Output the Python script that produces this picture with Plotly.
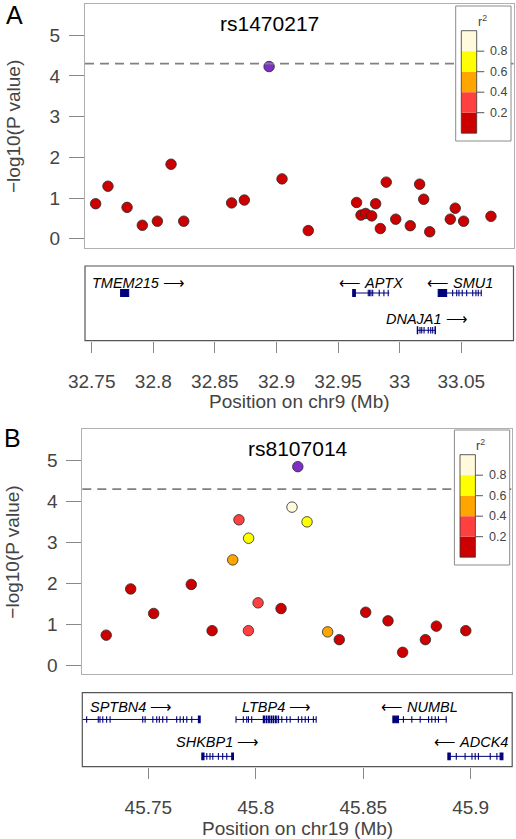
import plotly.graph_objects as go

W, H = 516, 839
FONT = "Liberation Sans, Arial, sans-serif"

# ---------------- data ----------------
# Panel A: chr9
a_pos = [32.7532, 32.7632, 32.7787, 32.7911, 32.8033, 32.8144, 32.8247, 32.8636, 32.8739,
         32.9045, 32.9258, 32.9650, 32.9686, 32.9724, 32.9773, 32.9805, 32.9843, 32.9891,
         32.9968, 33.0086, 33.0162, 33.0195, 33.0244, 33.0411, 33.0451, 33.0519, 33.0741]
a_logp = [0.86, 1.29, 0.77, 0.33, 0.43, 1.83, 0.43, 0.88, 0.95,
          1.47, 0.20, 0.89, 0.58, 0.62, 0.56, 0.86, 0.25, 1.39,
          0.48, 0.32, 1.34, 0.97, 0.17, 0.48, 0.75, 0.43, 0.55]
a_r2 = [0.1, 0.1, 0.1, 0.1, 0.1, 0.1, 0.1, 0.1, 0.1,
        0.1, 0.1, 0.1, 0.1, 0.1, 0.1, 0.1, 0.1, 0.1,
        0.1, 0.1, 0.1, 0.1, 0.1, 0.1, 0.1, 0.1, 0.1]
a_lead_pos = 32.8940
a_lead_logp = 4.23
a_lead_name = "rs1470217"

# Panel B: chr19
b_pos = [45.7304, 45.7418, 45.7525, 45.7700, 45.7797, 45.7893, 45.7922, 45.7967, 45.7966,
         45.8011, 45.8118, 45.8169, 45.8239, 45.8335, 45.8389, 45.8512, 45.8616, 45.8684,
         45.8790, 45.8841, 45.8978]
b_logp = [0.73, 1.86, 1.26, 1.97, 0.84, 2.57, 3.55, 3.10, 0.84,
          1.52, 1.38, 3.86, 3.50, 0.81, 0.62, 1.29, 1.08, 0.31,
          0.62, 0.95, 0.84]
b_r2 = [0.1, 0.1, 0.1, 0.1, 0.1, 0.5, 0.3, 0.7, 0.3,
        0.3, 0.1, 0.9, 0.7, 0.5, 0.1, 0.1, 0.1, 0.1,
        0.1, 0.1, 0.1]
b_lead_pos = 45.8196
b_lead_logp = 4.85
b_lead_name = "rs8107014"

threshold = 4.3

r2_breaks = [0.2, 0.4, 0.6, 0.8]
r2_labels = ["0.2", "0.4", "0.6", "0.8"]
r2_colors = ["#CC0000", "#FF4040", "#FFA500", "#FFFF00", "#FFFADC"]
lead_color = "#7D2FC8"

a_ticks = [32.75, 32.8, 32.85, 32.9, 32.95, 33.0, 33.05]
a_ticktext = ["32.75", "32.8", "32.85", "32.9", "32.95", "33", "33.05"]
b_ticks = [45.75, 45.8, 45.85, 45.9]
b_ticktext = ["45.75", "45.8", "45.85", "45.9"]

y_ticks = [0, 1, 2, 3, 4, 5]

# Genes, panel A
a_gene_names = ["TMEM215", "APTX", "SMU1", "DNAJA1"]
a_gene_start = [32.7735, 32.9619, 33.0313, 33.0143]
a_gene_end = [32.7800, 32.9916, 33.0666, 33.0295]
a_gene_strand = ["+", "-", "-", "+"]
a_gene_row = [1, 1, 1, 2]
a_gene_exons = [
    [(32.7735, 32.7800)],
    [(32.9619, 32.9640), (32.9745, 32.9745), (32.9756, 32.9756), (32.9767, 32.9767),
     (32.9781, 32.9781), (32.9834, 32.9834), (32.9872, 32.9872), (32.9907, 32.9907)],
    [(33.0313, 33.0381), (33.0430, 33.0430), (33.0463, 33.0463), (33.0481, 33.0481),
     (33.0508, 33.0508), (33.0544, 33.0544), (33.0593, 33.0593), (33.0619, 33.0619),
     (33.0638, 33.0638), (33.0662, 33.0662)],
    [(33.0143, 33.0146), (33.0165, 33.0165), (33.0179, 33.0179), (33.0198, 33.0198),
     (33.0232, 33.0232), (33.0252, 33.0252), (33.0268, 33.0268), (33.0287, 33.0290)],
]

# Genes, panel B
b_gene_names = ["SPTBN4", "LTBP4", "NUMBL", "SHKBP1", "ADCK4"]
b_gene_start = [45.7100, 45.7908, 45.8638, 45.7749, 45.8894]
b_gene_end = [45.7741, 45.8281, 45.8889, 45.7896, 45.9150]
b_gene_strand = ["+", "+", "-", "+", "-"]
b_gene_row = [1, 1, 1, 2, 2]
b_gene_exons = [
    [(45.7213, 45.7213), (45.7267, 45.7267), (45.7275, 45.7275), (45.7288, 45.7288),
     (45.7306, 45.7306), (45.7322, 45.7322), (45.7474, 45.7474), (45.7485, 45.7485),
     (45.7521, 45.7521), (45.7539, 45.7539), (45.7551, 45.7551), (45.7567, 45.7567),
     (45.7586, 45.7586), (45.7632, 45.7632), (45.7648, 45.7648), (45.7663, 45.7663),
     (45.7679, 45.7679), (45.7702, 45.7702), (45.7733, 45.7741)],
    [(45.7908, 45.7908), (45.7942, 45.7942), (45.7958, 45.7958), (45.7966, 45.7966),
     (45.7981, 45.7981), (45.8035, 45.8040), (45.8048, 45.8052), (45.8060, 45.8063),
     (45.8071, 45.8074), (45.8081, 45.8084), (45.8092, 45.8095), (45.8104, 45.8106),
     (45.8121, 45.8121), (45.8144, 45.8144), (45.8160, 45.8160), (45.8198, 45.8198),
     (45.8214, 45.8214), (45.8230, 45.8230), (45.8245, 45.8245), (45.8268, 45.8268),
     (45.8281, 45.8281)],
    [(45.8638, 45.8664), (45.8687, 45.8687), (45.8726, 45.8726), (45.8765, 45.8765),
     (45.8804, 45.8804), (45.8819, 45.8819), (45.8835, 45.8835), (45.8850, 45.8850),
     (45.8886, 45.8886)],
    [(45.7749, 45.7759), (45.7772, 45.7772), (45.7787, 45.7787), (45.7800, 45.7800),
     (45.7826, 45.7826), (45.7846, 45.7846), (45.7865, 45.7865), (45.7888, 45.7896)],
    [(45.8894, 45.8905), (45.8933, 45.8933), (45.8974, 45.8974), (45.9006, 45.9006),
     (45.9021, 45.9021), (45.9036, 45.9036), (45.9091, 45.9091), (45.9122, 45.9122),
     (45.9137, 45.9150)],
]

# ---------------- layout helpers (pixel geometry) ----------------
def fx(px):
    return px / W


def fy(py):
    return 1 - py / H


def r2_color(v):
    idx = sum(1 for b in r2_breaks if v >= b)
    return r2_colors[idx]


GENE_COLOR = "#00007A"
TICK_FONT = dict(family=FONT, size=19, color="#444444")
TITLE_FONT = dict(family=FONT, size=19, color="#444444")

fig = go.Figure()
shapes = []
annotations = []


def add_panel(n, pos, logp, r2, lead_pos, lead_logp, lead_name,
              plot_px, gene_px, xr, yr, ticks, ticktext, xtitle, xtitle_y, letter, letter_xy,
              key_px,
              g_names, g_start, g_end, g_strand, g_row, g_exons, label_off):
    sx = 2 * n - 1
    gx = 2 * n
    sxn = "x" if sx == 1 else "x%d" % sx
    syn = "y" if sx == 1 else "y%d" % sx
    gxn = "x%d" % gx
    gyn = "y%d" % gx
    sxk = "xaxis" if sx == 1 else "xaxis%d" % sx
    syk = "yaxis" if sx == 1 else "yaxis%d" % sx
    gxk = "xaxis%d" % gx
    gyk = "yaxis%d" % gx

    l, r, t, b = plot_px
    gl, gr, gt, gb = gene_px

    layout = {}
    layout[sxk] = dict(domain=[fx(l), fx(r)], range=xr, anchor=syn, showticklabels=False,
                       ticks="", showgrid=False, zeroline=False, showline=True, mirror=True,
                       linecolor="#B0B0B0", linewidth=1, automargin=False)
    layout[syk] = dict(domain=[fy(b), fy(t)], range=yr, anchor=sxn, tickvals=y_ticks,
                       ticks="outside", ticklen=15, tickwidth=1, tickcolor="#888888",
                       tickfont=TICK_FONT, ticklabelstandoff=5, automargin=False,
                       showgrid=False, zeroline=False, showline=True, mirror=True,
                       linecolor="#B0B0B0", linewidth=1)
    layout[gxk] = dict(domain=[fx(gl), fx(gr)], range=xr, anchor=gyn, tickvals=ticks,
                       ticktext=ticktext, ticks="outside", ticklen=11, tickwidth=1.2,
                       tickcolor="#888888", tickfont=TICK_FONT, ticklabelstandoff=12,
                       showgrid=False, zeroline=False, showline=False, automargin=False)
    layout[gyk] = dict(domain=[fy(gb), fy(gt)], range=[2.28, 0.275], anchor=gxn,
                       visible=False, showgrid=False, zeroline=False)
    fig.update_layout(**layout)

    # scatter points
    fig.add_trace(go.Scatter(
        x=pos, y=logp, mode="markers", xaxis=sxn, yaxis=syn, showlegend=False,
        hoverinfo="skip",
        marker=dict(size=10.5, color=[r2_color(v) for v in r2],
                    line=dict(color="#2A2A2A", width=0.8))))
    fig.add_trace(go.Scatter(
        x=[lead_pos], y=[lead_logp], mode="markers", xaxis=sxn, yaxis=syn,
        showlegend=False, hoverinfo="skip",
        marker=dict(size=10.5, color=lead_color, line=dict(color="#2A2A2A", width=0.8))))

    annotations.append(dict(x=lead_pos, y=5.3, xref=sxn, yref=syn, text=lead_name,
                            showarrow=False, font=dict(family=FONT, size=21, color="#000000"),
                            xanchor="center", yanchor="middle"))

    # threshold line
    shapes.append(dict(type="line", xref=sxn + " domain", yref=syn, x0=0, x1=1,
                       y0=threshold, y1=threshold,
                       line=dict(color="#808080", width=1.7, dash="9px,6px"), layer="above"))

    # r2 key
    kt, kr = key_px
    box_l = kr - 55.3
    box_b = kt + 135
    shapes.append(dict(type="rect", xref="paper", yref="paper", x0=fx(box_l), x1=fx(kr),
                       y0=fy(box_b), y1=fy(kt), fillcolor="white",
                       line=dict(color="#8C8C8C", width=1), layer="above"))
    bar_l = box_l + 5.6
    bar_r = bar_l + 15.4
    bar_t = kt + 24.7
    seg = 20.5
    nseg = len(r2_colors)
    for i, c in enumerate(r2_colors):
        y_top = bar_t + (nseg - 1 - i) * seg
        shapes.append(dict(type="rect", xref="paper", yref="paper", x0=fx(bar_l), x1=fx(bar_r),
                           y0=fy(y_top + seg), y1=fy(y_top), fillcolor=c,
                           line=dict(width=0), layer="above"))
    shapes.append(dict(type="rect", xref="paper", yref="paper", x0=fx(bar_l), x1=fx(bar_r),
                       y0=fy(bar_t + nseg * seg), y1=fy(bar_t), fillcolor="rgba(0,0,0,0)",
                       line=dict(color="#333333", width=0.8), layer="above"))
    for j, lab in enumerate(r2_labels):
        yb = bar_t + (nseg - 1 - j) * seg
        shapes.append(dict(type="line", xref="paper", yref="paper", x0=fx(bar_r),
                           x1=fx(bar_r + 7.6), y0=fy(yb), y1=fy(yb),
                           line=dict(color="#555555", width=1), layer="above"))
        annotations.append(dict(x=fx(bar_r + 11.5), y=fy(yb), xref="paper", yref="paper",
                                text=lab, showarrow=False, xanchor="left", yanchor="middle",
                                font=dict(family=FONT, size=12.5, color="#444444")))
    annotations.append(dict(x=fx(bar_r + 5.3), y=fy(kt + 14.5), xref="paper", yref="paper",
                            text="r<sup>2</sup>", showarrow=False, xanchor="center",
                            yanchor="middle", font=dict(family=FONT, size=12.5, color="#444444")))

    # gene box
    shapes.append(dict(type="rect", xref=gxn + " domain", yref=gyn + " domain", x0=0, x1=1,
                       y0=0, y1=1, line=dict(color="#555555", width=1.2),
                       fillcolor="rgba(0,0,0,0)", layer="above"))
    px_per_mb = (gr - gl) / (xr[1] - xr[0])
    for name, s, e, st, row, exons in zip(g_names, g_start, g_end, g_strand, g_row, g_exons):
        fig.add_trace(go.Scatter(x=[s, e], y=[row, row], mode="lines", xaxis=gxn, yaxis=gyn,
                                 showlegend=False, hoverinfo="skip",
                                 line=dict(color=GENE_COLOR, width=1)))
        for (es, ee) in exons:
            shapes.append(dict(type="rect", xref=gxn, yref=gyn, x0=es, x1=ee,
                               y0=row - 0.09, y1=row + 0.09, fillcolor=GENE_COLOR,
                               line=dict(color=GENE_COLOR, width=1.1), layer="above"))
        if st == "+":
            text = "<i>%s</i> \u27f6" % name
        else:
            text = "\u27f5 <i>%s</i>" % name
        center = (s + e) / 2
        est_w = len(name) * 9.2 + 24
        cpx = gl + (center - xr[0]) * px_per_mb
        xanchor = "center"
        xval = center
        if cpx - est_w / 2 < gl + 4:
            xanchor = "left"
            xval = xr[0] + 5 / px_per_mb
        elif cpx + est_w / 2 > gr - 2:
            xanchor = "right"
            xval = xr[1] - 2 / px_per_mb
        annotations.append(dict(x=xval, y=row - label_off[row - 1], xref=gxn, yref=gyn,
                                text=text, showarrow=False, xanchor=xanchor, yanchor="middle",
                                font=dict(family=FONT, size=14.5, color="#000000")))

    # axis titles
    annotations.append(dict(x=fx(13), y=fy((t + b) / 2 + 1), xref="paper", yref="paper",
                            text="\u2212log10(P value)", textangle=-90, showarrow=False,
                            xanchor="center", yanchor="middle", font=TITLE_FONT))
    annotations.append(dict(x=fx((gl + gr) / 2), y=fy(xtitle_y), xref="paper", yref="paper",
                            text=xtitle, showarrow=False, xanchor="center", yanchor="middle",
                            font=TITLE_FONT))
    annotations.append(dict(x=fx(letter_xy[0]), y=fy(letter_xy[1]), xref="paper", yref="paper",
                            text=letter, showarrow=False, xanchor="center", yanchor="middle",
                            font=dict(family=FONT, size=25, color="#000000")))


add_panel(1, a_pos, a_logp, a_r2, a_lead_pos, a_lead_logp, a_lead_name,
          plot_px=(85, 513.5, 4, 248), gene_px=(85, 513.5, 266, 340.7),
          xr=[32.74456, 33.0924], yr=[-0.2285, 5.767],
          ticks=a_ticks, ticktext=a_ticktext, xtitle="Position on chr9 (Mb)", xtitle_y=401.7,
          letter="A", letter_xy=(14.5, 14.5), key_px=(6, 511),
          g_names=a_gene_names, g_start=a_gene_start, g_end=a_gene_end,
          g_strand=a_gene_strand, g_row=a_gene_row, g_exons=a_gene_exons,
          label_off=[0.28, 0.30])

add_panel(2, b_pos, b_logp, b_r2, b_lead_pos, b_lead_logp, b_lead_name,
          plot_px=(82.3, 512, 429.3, 674), gene_px=(82.3, 512.2, 692.7, 766.7),
          xr=[45.71927, 45.91932], yr=[-0.22, 5.763],
          ticks=b_ticks, ticktext=b_ticktext, xtitle="Position on chr19 (Mb)", xtitle_y=828,
          letter="B", letter_xy=(12, 438), key_px=(430, 509.7),
          g_names=b_gene_names, g_start=b_gene_start, g_end=b_gene_end,
          g_strand=b_gene_strand, g_row=b_gene_row, g_exons=b_gene_exons,
          label_off=[0.34, 0.38])

fig.update_layout(width=W, height=H, margin=dict(l=0, r=0, t=0, b=0, pad=0, autoexpand=False),
                  paper_bgcolor="white", plot_bgcolor="white",
                  shapes=shapes, annotations=annotations, showlegend=False,
                  font=dict(family=FONT))

fig.write_html("out.html",
               config={"displayModeBar": False},
               post_script="document.body.style.margin='0';"
                           "document.body.style.overflow='hidden';")
